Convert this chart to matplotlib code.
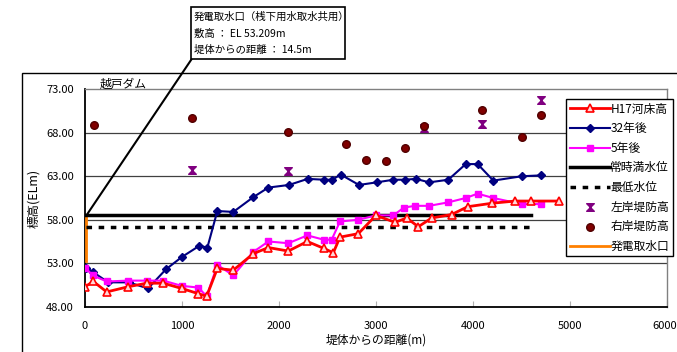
"""越戸ダム 河床高縦断図
"""

import matplotlib
matplotlib.use('Agg')
import matplotlib.pyplot as plt
import matplotlib.transforms as mtransforms
from matplotlib.patches import Rectangle, ConnectionPatch
from matplotlib.path import Path

plt.rcParams['font.family'] = ['Noto Sans CJK JP', 'DejaVu Sans']

# H17河床高
h17_x = [0, 86, 224, 447, 636, 808, 997, 1169, 1255, 1365, 1530, 1736, 1891,
         2097, 2293, 2465, 2561, 2630, 2819, 3001, 3198, 3318, 3438, 3576,
         3782, 3947, 4200, 4435, 4597, 4886]
h17_y = [50.3, 50.9, 49.7, 50.3, 50.7, 50.7, 50.1, 49.5, 49.2, 52.4, 52.2, 54.1,
         54.8, 54.4, 55.5, 54.7, 54.2, 56.0, 56.4, 58.5, 57.7, 58.2, 57.2, 58.2,
         58.6, 59.5, 59.9, 60.15, 60.15, 60.15]

# 32年後
y32_x = [14, 80, 240, 450, 650, 835, 997, 1179, 1262, 1365, 1530, 1736, 1891,
         2104, 2297, 2469, 2551, 2637, 2826, 3008, 3180, 3300, 3411, 3551,
         3747, 3927, 4050, 4212, 4504, 4700]
y32_y = [52.5, 52.0, 50.8, 50.8, 50.1, 52.3, 53.7, 55.0, 54.8, 59.0, 58.9, 60.6,
         61.7, 62.0, 62.7, 62.6, 62.6, 63.2, 62.0, 62.3, 62.6, 62.6, 62.7, 62.3,
         62.6, 64.4, 64.4, 62.5, 63.0, 63.1]

# 5年後
y5_x = [0, 79, 224, 447, 636, 808, 997, 1169, 1255, 1365, 1530, 1736, 1891,
        2097, 2293, 2465, 2544, 2630, 2819, 3001, 3180, 3290, 3404, 3551, 3747,
        3927, 4050, 4212, 4504, 4700]
y5_y = [52.5, 51.6, 50.9, 51.0, 51.0, 51.0, 50.4, 50.2, 49.2, 52.8, 51.6, 54.3,
        55.5, 55.3, 56.2, 55.7, 55.7, 57.8, 58.0, 58.5, 58.5, 59.4, 59.6, 59.6,
        60.0, 60.5, 61.0, 60.5, 59.8, 59.8]

# 常時満水位 / 最低水位
wl_x = [14.5, 4600]
full_level = 58.5
low_level = 57.2

# 堤防高
left_x = [1100, 2097, 3497, 4098, 4700]
left_y = [63.7, 63.6, 68.6, 69.0, 71.8]
right_x = [93, 1100, 2097, 2692, 2895, 3101, 3301, 3497, 4098, 4504, 4700]
right_y = [68.9, 69.65, 68.1, 66.7, 64.9, 64.7, 66.2, 68.8, 70.6, 67.5, 70.1]

# 発電取水口
intake_x = [14.5, 14.5]
intake_y = [53.209, 58.5]

yticks = [48, 53, 58, 63, 68, 73]
xticks = [0, 1000, 2000, 3000, 4000, 5000, 6000]

W, H = 677, 352
fig = plt.figure(figsize=(W / 100, H / 100), dpi=100)
ax = fig.add_axes([85 / W, 1 - 306.7 / H, (666.7 - 85) / W, (306.7 - 89.3) / H])

# outer chart frame (clipped by image edge)
fig.patches.append(Rectangle((22 / W, -0.2), 1.2, (H - 73) / H + 0.2,
                             transform=fig.transFigure, fill=False,
                             ec='black', lw=1.0))

for y in [53, 58, 63, 68]:
    ax.axhline(y, color='#404040', lw=0.9, zorder=1)

l_int, = ax.plot(intake_x, intake_y, color='#ff8000', lw=2, label='発電取水口',
                 zorder=3)

hourglass = Path([(-1, 1), (1, 1), (-1, -1), (1, -1), (-1, 1)],
                 [Path.MOVETO, Path.LINETO, Path.LINETO, Path.LINETO, Path.CLOSEPOLY])

l_h17, = ax.plot(h17_x, h17_y, color='#ff0000', lw=2, marker='^', ms=6,
                 mfc='#ffd8d8', mec='#ff0000', mew=1.2, label='H17河床高', zorder=5)
l_32, = ax.plot(y32_x, y32_y, color='#000080', lw=1.5, marker='D', ms=4.5,
                label='32年後', zorder=4)
l_5, = ax.plot(y5_x, y5_y, color='#ff00ff', lw=1.5, marker='s', ms=5,
               label='5年後', zorder=4)
l_full, = ax.plot(wl_x, [full_level] * 2, color='black', lw=2.5,
                  label='常時満水位', zorder=3)
l_low, = ax.plot(wl_x, [low_level] * 2, color='black', lw=2.5,
                 ls=(0, (1.6, 1.9)), label='最低水位', zorder=3)
s_left = ax.scatter(left_x, left_y, marker=hourglass, s=30, color='#800080',
                    label='左岸堤防高', zorder=6)
s_right = ax.scatter(right_x, right_y, marker='o', s=30, color='#800000',
                     edgecolors='#500000', label='右岸堤防高', zorder=6)

ax.set_xlim(0, 6000)
ax.set_ylim(48, 73)
ax.set_yticks(yticks)
ax.set_yticklabels(['%.2f' % v for v in yticks], fontsize=8)
ax.set_xticks(xticks)
ax.set_xticklabels([str(v) for v in xticks], fontsize=8)
ax.tick_params(axis='y', length=0, pad=8)
ax.tick_params(axis='x', direction='in', length=4, color='#b0b0b0', pad=10)
# last x label sits against the right image edge
last = ax.get_xticklabels()[-1]
last.set_horizontalalignment('right')
last.set_transform(last.get_transform() +
                   mtransforms.ScaledTranslation(10 / 100, 0, fig.dpi_scale_trans))
for s in ['left', 'bottom']:
    ax.spines[s].set_color('black')
    ax.spines[s].set_linewidth(1.3)
for s in ['top', 'right']:
    ax.spines[s].set_color('#808080')
    ax.spines[s].set_linewidth(1.0)

ax.set_ylabel('標高(ELm)', fontsize=9, labelpad=4)
ax.set_xlabel('堤体からの距離(m)', fontsize=8.5, labelpad=2)
fig.text(100 / W, 1 - 84 / H, '越戸ダム', fontsize=8.5, va='center', ha='left')

leg = fig.legend([l_h17, l_32, l_5, l_full, l_low, s_left, s_right, l_int],
                 ['H17河床高', '32年後', '5年後', '常時満水位', '最低水位',
                  '左岸堤防高', '右岸堤防高', '発電取水口'],
                 loc='upper left', bbox_to_anchor=(566 / W, 1 - 99 / H),
                 fontsize=8.5, handlelength=3.4, handletextpad=0.05,
                 labelspacing=0.56, borderpad=0.3, borderaxespad=0,
                 fancybox=False, framealpha=1, edgecolor='black',
                 scatterpoints=1)
leg.get_frame().set_linewidth(1.0)

# callout box for intake
fig.patches.append(Rectangle((190.7 / W, 1 - 59.3 / H), (345 - 190.7) / W,
                             (59.3 - 7.3) / H, transform=fig.transFigure,
                             fill=True, fc='white', ec='black', lw=1.2, zorder=10))
callout = ['発電取水口（桟下用水取水共用）', '敷高 ： EL 53.209m', '堤体からの距離 ： 14.5m']
for i, line in enumerate(callout):
    fig.text(194 / W, 1 - (17 + 16.5 * i) / H, line, fontsize=7.5,
             va='center', ha='left', zorder=11)
con = ConnectionPatch(xyA=(14.5, 58.5), coordsA=ax.transData,
                      xyB=(191.5 / W, 1 - 59.3 / H), coordsB=fig.transFigure,
                      color='black', lw=1.5)
fig.add_artist(con)

fig.savefig('out.png', dpi=100)
